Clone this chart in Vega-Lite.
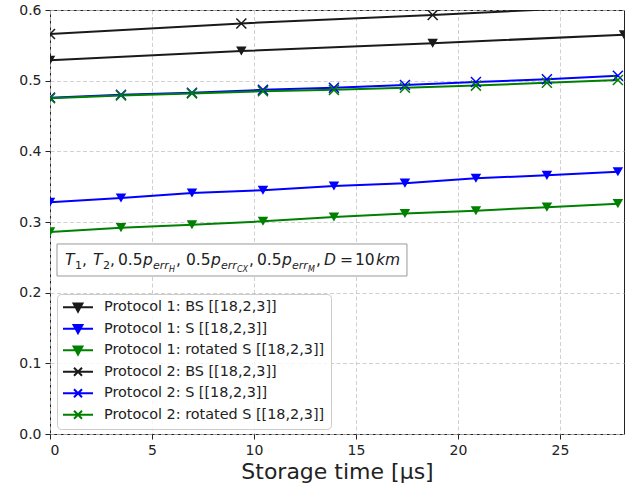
{
  "$schema": "https://vega.github.io/schema/vega-lite/v6.json",
  "width": 574,
  "height": 424,
  "autosize": {"type": "none"},
  "padding": {"left": 50, "top": 10, "right": 20, "bottom": 62},
  "background": "white",
  "config": {
    "font": "DejaVu Sans",
    "view": {"stroke": "#222222", "strokeWidth": 1},
    "axis": {
      "grid": true,
      "gridDash": [4, 2.5],
      "gridColor": "#c4c4c4",
      "gridWidth": 0.8,
      "domain": false,
      "tickSize": 5,
      "tickColor": "#222222",
      "labelFontSize": 14,
      "labelColor": "#222222",
      "labelPadding": 4,
      "titleFontSize": 22,
      "titleFontWeight": "normal",
      "titleColor": "#222222"
    }
  },
  "datasets": {
    "series": [
      {"series": "Protocol 1: BS [[18,2,3]]", "x": 0, "y": 0.529},
      {"series": "Protocol 1: BS [[18,2,3]]", "x": 9.38, "y": 0.542},
      {"series": "Protocol 1: BS [[18,2,3]]", "x": 18.76, "y": 0.553},
      {"series": "Protocol 1: BS [[18,2,3]]", "x": 28.14, "y": 0.565},
      {"series": "Protocol 1: S [[18,2,3]]", "x": 0, "y": 0.328},
      {"series": "Protocol 1: S [[18,2,3]]", "x": 3.48, "y": 0.334},
      {"series": "Protocol 1: S [[18,2,3]]", "x": 6.96, "y": 0.341},
      {"series": "Protocol 1: S [[18,2,3]]", "x": 10.44, "y": 0.345},
      {"series": "Protocol 1: S [[18,2,3]]", "x": 13.92, "y": 0.351},
      {"series": "Protocol 1: S [[18,2,3]]", "x": 17.4, "y": 0.355},
      {"series": "Protocol 1: S [[18,2,3]]", "x": 20.88, "y": 0.362},
      {"series": "Protocol 1: S [[18,2,3]]", "x": 24.36, "y": 0.366},
      {"series": "Protocol 1: S [[18,2,3]]", "x": 27.84, "y": 0.371},
      {"series": "Protocol 1: rotated S [[18,2,3]]", "x": 0, "y": 0.286},
      {"series": "Protocol 1: rotated S [[18,2,3]]", "x": 3.48, "y": 0.292},
      {"series": "Protocol 1: rotated S [[18,2,3]]", "x": 6.96, "y": 0.296},
      {"series": "Protocol 1: rotated S [[18,2,3]]", "x": 10.44, "y": 0.301},
      {"series": "Protocol 1: rotated S [[18,2,3]]", "x": 13.92, "y": 0.307},
      {"series": "Protocol 1: rotated S [[18,2,3]]", "x": 17.4, "y": 0.312},
      {"series": "Protocol 1: rotated S [[18,2,3]]", "x": 20.88, "y": 0.316},
      {"series": "Protocol 1: rotated S [[18,2,3]]", "x": 24.36, "y": 0.321},
      {"series": "Protocol 1: rotated S [[18,2,3]]", "x": 27.84, "y": 0.326},
      {"series": "Protocol 2: BS [[18,2,3]]", "x": 0, "y": 0.566},
      {"series": "Protocol 2: BS [[18,2,3]]", "x": 9.38, "y": 0.581},
      {"series": "Protocol 2: BS [[18,2,3]]", "x": 18.76, "y": 0.593},
      {"series": "Protocol 2: BS [[18,2,3]]", "x": 28.14, "y": 0.606},
      {"series": "Protocol 2: S [[18,2,3]]", "x": 0, "y": 0.476},
      {"series": "Protocol 2: S [[18,2,3]]", "x": 3.48, "y": 0.480},
      {"series": "Protocol 2: S [[18,2,3]]", "x": 6.96, "y": 0.483},
      {"series": "Protocol 2: S [[18,2,3]]", "x": 10.44, "y": 0.487},
      {"series": "Protocol 2: S [[18,2,3]]", "x": 13.92, "y": 0.490},
      {"series": "Protocol 2: S [[18,2,3]]", "x": 17.4, "y": 0.494},
      {"series": "Protocol 2: S [[18,2,3]]", "x": 20.88, "y": 0.498},
      {"series": "Protocol 2: S [[18,2,3]]", "x": 24.36, "y": 0.502},
      {"series": "Protocol 2: S [[18,2,3]]", "x": 27.84, "y": 0.507},
      {"series": "Protocol 2: rotated S [[18,2,3]]", "x": 0, "y": 0.475},
      {"series": "Protocol 2: rotated S [[18,2,3]]", "x": 3.48, "y": 0.479},
      {"series": "Protocol 2: rotated S [[18,2,3]]", "x": 6.96, "y": 0.482},
      {"series": "Protocol 2: rotated S [[18,2,3]]", "x": 10.44, "y": 0.485},
      {"series": "Protocol 2: rotated S [[18,2,3]]", "x": 13.92, "y": 0.487},
      {"series": "Protocol 2: rotated S [[18,2,3]]", "x": 17.4, "y": 0.490},
      {"series": "Protocol 2: rotated S [[18,2,3]]", "x": 20.88, "y": 0.493},
      {"series": "Protocol 2: rotated S [[18,2,3]]", "x": 24.36, "y": 0.497},
      {"series": "Protocol 2: rotated S [[18,2,3]]", "x": 27.84, "y": 0.501}
    ],
    "box": [{"x": 0.343, "x2": 17.5, "y": 0.2236, "y2": 0.2689}],
    "mainUp": [
      {"x": 1.569, "y": 0.2392, "t": ","},
      {"x": 2.941, "y": 0.2392, "t": ","},
      {"x": 3.333, "y": 0.2392, "t": "0.5"},
      {"x": 6.176, "y": 0.2392, "t": ","},
      {"x": 6.667, "y": 0.2392, "t": "0.5"},
      {"x": 9.755, "y": 0.2392, "t": ","},
      {"x": 10.147, "y": 0.2392, "t": "0.5"},
      {"x": 13.039, "y": 0.2392, "t": ","},
      {"x": 14.216, "y": 0.2392, "t": "="},
      {"x": 14.951, "y": 0.2392, "t": "10"}
    ],
    "mainIt": [
      {"x": 0.735, "y": 0.2392, "t": "T"},
      {"x": 2.108, "y": 0.2392, "t": "T"},
      {"x": 4.559, "y": 0.2392, "t": "p"},
      {"x": 7.892, "y": 0.2392, "t": "p"},
      {"x": 11.373, "y": 0.2392, "t": "p"},
      {"x": 13.431, "y": 0.2392, "t": "D"},
      {"x": 15.98, "y": 0.2392, "t": "km"}
    ],
    "subUp": [
      {"x": 1.225, "y": 0.2335, "t": "1"},
      {"x": 2.598, "y": 0.2335, "t": "2"}
    ],
    "subIt": [
      {"x": 5.049, "y": 0.2335, "t": "err"},
      {"x": 8.382, "y": 0.2335, "t": "err"},
      {"x": 11.863, "y": 0.2335, "t": "err"}
    ],
    "subSub": [
      {"x": 5.833, "y": 0.2292, "t": "H"},
      {"x": 9.167, "y": 0.2292, "t": "CX"},
      {"x": 12.647, "y": 0.2292, "t": "M"}
    ]
  },
  "encoding": {
    "x": {
      "field": "x",
      "type": "quantitative",
      "scale": {"domain": [0, 28.14], "nice": false, "zero": false},
      "axis": {"values": [0, 5, 10, 15, 20, 25], "title": "Storage time [μs]", "titlePadding": 4}
    },
    "y": {
      "field": "y",
      "type": "quantitative",
      "scale": {"domain": [0, 0.6], "nice": false},
      "axis": {"values": [0, 0.1, 0.2, 0.3, 0.4, 0.5, 0.6], "format": ".1f", "title": null}
    }
  },
  "layer": [
    {
      "data": {"name": "series"},
      "mark": {"type": "line", "strokeWidth": 2, "clip": true},
      "encoding": {
        "color": {
          "field": "series",
          "type": "nominal",
          "scale": {
            "domain": [
              "Protocol 1: BS [[18,2,3]]",
              "Protocol 1: S [[18,2,3]]",
              "Protocol 1: rotated S [[18,2,3]]",
              "Protocol 2: BS [[18,2,3]]",
              "Protocol 2: S [[18,2,3]]",
              "Protocol 2: rotated S [[18,2,3]]"
            ],
            "range": ["#1a1a1a", "#0000ff", "#008000", "#1a1a1a", "#0000ff", "#008000"]
          },
          "legend": {
            "orient": "none",
            "legendX": 7,
            "legendY": 284,
            "title": null,
            "labelFontSize": 14.4,
            "labelColor": "#222222",
            "labelFont": "DejaVu Sans",
            "labelLimit": 400,
            "symbolSize": 64,
            "symbolStrokeWidth": 2,
            "symbolType": "M-3.75,0H3.75",
            "fillColor": "rgba(255,255,255,0.8)",
            "strokeColor": "#cccccc",
            "cornerRadius": 4,
            "padding": 6,
            "rowPadding": 4.5,
            "labelOffset": 22,
            "encode": {
              "symbols": {
                "update": {
                  "shape": {"signal": "indexof(datum.value,'Protocol 1')==0 ? 'M-3.75,0H3.75M-1.1,-0.9L1.1,-0.9L0,1.1Z' : 'M-3.75,0H3.75M-1,-1L1,1M-1,1L1,-1'"},
                  "fill": {"scale": "color", "field": "value"},
                  "fillOpacity": {"value": 1},
                  "x": {"value": 15}
                }
              },
              "labels": {
                "update": {"x": {"value": 41}}
              }
            }
          }
        }
      }
    },
    {
      "data": {"name": "series"},
      "transform": [{"filter": "indexof(datum.series,'Protocol 1')==0"}],
      "mark": {"type": "point", "shape": "triangle-down", "filled": true, "size": 110, "opacity": 1, "clip": true},
      "encoding": {
        "color": {"field": "series", "type": "nominal", "legend": null}
      }
    },
    {
      "data": {"name": "series"},
      "transform": [{"filter": "indexof(datum.series,'Protocol 2')==0"}],
      "mark": {"type": "point", "shape": "M-1,-1L1,1M-1,1L1,-1", "filled": false, "size": 100, "strokeWidth": 1.5, "opacity": 1, "clip": true},
      "encoding": {
        "color": {"field": "series", "type": "nominal", "legend": null}
      }
    },
    {
      "data": {"name": "box"},
      "mark": {"type": "rect", "fill": "white", "stroke": "#999999", "strokeWidth": 1},
      "encoding": {"x2": {"field": "x2"}, "y2": {"field": "y2"}}
    },
    {
      "data": {"name": "mainUp"},
      "mark": {"type": "text", "font": "DejaVu Sans", "fontSize": 15.5, "align": "left", "baseline": "alphabetic", "color": "#222222"},
      "encoding": {"text": {"field": "t"}}
    },
    {
      "data": {"name": "mainIt"},
      "mark": {"type": "text", "font": "DejaVu Sans", "fontStyle": "italic", "fontSize": 15.5, "align": "left", "baseline": "alphabetic", "color": "#222222"},
      "encoding": {"text": {"field": "t"}}
    },
    {
      "data": {"name": "subUp"},
      "mark": {"type": "text", "font": "DejaVu Sans", "fontSize": 11, "align": "left", "baseline": "alphabetic", "color": "#222222"},
      "encoding": {"text": {"field": "t"}}
    },
    {
      "data": {"name": "subIt"},
      "mark": {"type": "text", "font": "DejaVu Sans", "fontStyle": "italic", "fontSize": 11, "align": "left", "baseline": "alphabetic", "color": "#222222"},
      "encoding": {"text": {"field": "t"}}
    },
    {
      "data": {"name": "subSub"},
      "mark": {"type": "text", "font": "DejaVu Sans", "fontStyle": "italic", "fontSize": 8, "align": "left", "baseline": "alphabetic", "color": "#222222"},
      "encoding": {"text": {"field": "t"}}
    }
  ]
}
